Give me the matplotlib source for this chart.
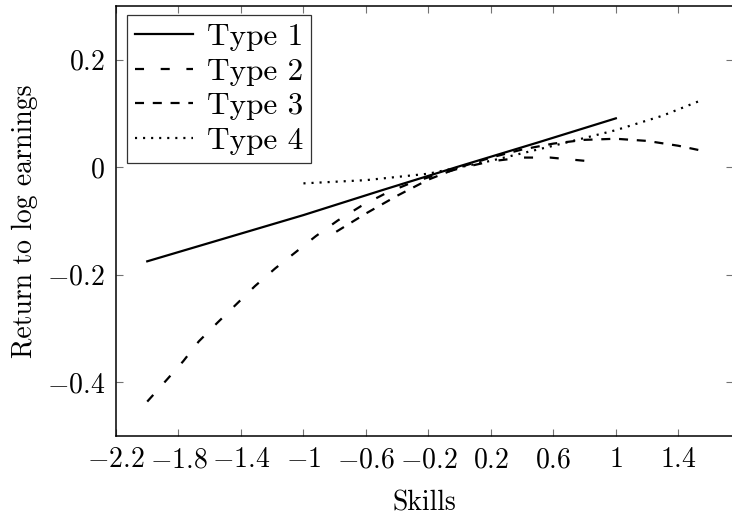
import matplotlib
matplotlib.use("Agg")
import matplotlib.pyplot as plt

# Computer Modern look (fonts bundled with matplotlib)
plt.rcParams['font.family'] = 'serif'
plt.rcParams['font.serif'] = ['cmr10']
plt.rcParams['mathtext.fontset'] = 'cm'
plt.rcParams['axes.formatter.use_mathtext'] = True
plt.rcParams['lines.scale_dashes'] = False

# data
x_type1 = [-2.0, -1.5, -1.0, -0.5, 0.0, 0.5, 1.0]
y_type1 = [-0.175, -0.132, -0.089, -0.043, 0.002, 0.046, 0.091]

x_type2 = [-2.0, -1.88, -1.77, -1.67, -1.55, -1.43, -1.31, -1.18, -1.05, -0.92,
           -0.78, -0.63, -0.47, -0.31, -0.17, 0.0, 0.2, 0.4, 0.58, 0.8]
y_type2 = [-0.436, -0.397, -0.361, -0.324, -0.289, -0.255, -0.221, -0.188, -0.158, -0.128,
           -0.099, -0.072, -0.048, -0.029, -0.016, -0.002, 0.011, 0.018, 0.018, 0.012]

x_type3 = [-0.79, -0.6, -0.4, -0.2, 0.0, 0.2, 0.4, 0.6, 0.8, 1.0, 1.2, 1.4, 1.58]
y_type3 = [-0.12, -0.086, -0.053, -0.023, 0.0, 0.018, 0.033, 0.044, 0.051, 0.053, 0.049, 0.04, 0.029]

x_type4 = [-1.0, -0.6, -0.2, 0.2, 0.6, 1.0, 1.3, 1.55]
y_type4 = [-0.03, -0.024, -0.012, 0.012, 0.04, 0.069, 0.096, 0.125]

xticks = [-2.2, -1.8, -1.4, -1.0, -0.6, -0.2, 0.2, 0.6, 1.0, 1.4]
xtick_labels = ['$-2.2$', '$-1.8$', '$-1.4$', '$-1$', '$-0.6$', '$-0.2$',
                '$0.2$', '$0.6$', '$1$', '$1.4$']
yticks = [-0.4, -0.2, 0.0, 0.2]
ytick_labels = ['$-0.4$', '$-0.2$', '$0$', '$0.2$']

W, H = 732, 518
fig = plt.figure(figsize=(W / 100, H / 100), dpi=100)
# axes box in pixels: left 116, right ~733, top 6, bottom 436
ax = fig.add_axes([116 / W, (H - 436) / H, 617 / W, 430 / H])

lw = 1.6
ax.plot(x_type1, y_type1, color='black', lw=lw, label='Type 1')
ax.plot(x_type2, y_type2, color='black', lw=lw, dashes=(6.5, 12.0), label='Type 2')
ax.plot(x_type3, y_type3, color='black', lw=lw, dashes=(6.5, 6.3), label='Type 3')
ax.plot(x_type4, y_type4, color='black', lw=lw, dashes=(1.5, 4.3),
        dash_capstyle='butt', label='Type 4')

ax.set_xlim(-2.2, 1.75)
ax.set_ylim(-0.5, 0.3)
ax.set_xticks(xticks)
ax.set_xticklabels(xtick_labels)
ax.set_yticks(yticks)
ax.set_yticklabels(ytick_labels)

ax.tick_params(direction='in', length=5, width=0.8, color='0.45',
               top=True, right=True, labelsize=20, pad=8)
for s in ax.spines.values():
    s.set_linewidth(1.1)

ax.set_xlabel('Skills', fontsize=20, labelpad=12)
ax.set_ylabel('Return to log earnings', fontsize=20, labelpad=6)

leg = ax.legend(loc='upper left', bbox_to_anchor=(11 / 617, 1 - 9 / 430),
                borderaxespad=0, fontsize=22.5, handlelength=1.85,
                handletextpad=0.45, labelspacing=0.22, borderpad=0.25,
                fancybox=False, frameon=True)
leg.get_frame().set_edgecolor('black')
leg.get_frame().set_linewidth(0.9)

fig.savefig('out.png', dpi=100)
